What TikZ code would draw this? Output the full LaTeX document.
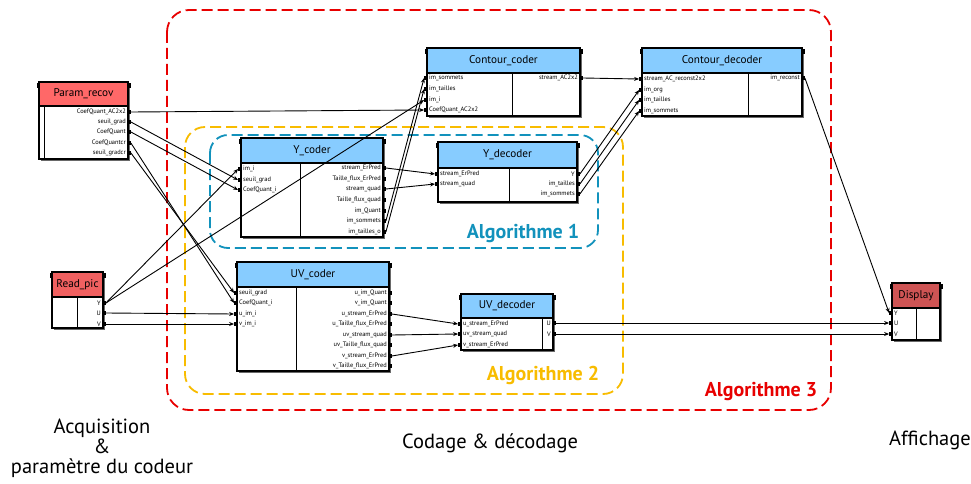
\documentclass[tikz,border=0pt]{standalone}
\usepackage{fontspec}
\setmainfont{PT Sans}
\usetikzlibrary{arrows.meta}
\definecolor{hblue}{RGB}{135,204,255}
\definecolor{hred}{RGB}{255,104,104}
\definecolor{hred2}{RGB}{240,96,96}
\definecolor{hred3}{RGB}{206,84,84}
\definecolor{shadowc}{RGB}{105,105,105}
\definecolor{algone}{RGB}{18,146,188}
\definecolor{algtwo}{RGB}{248,188,0}
\definecolor{algthree}{RGB}{232,0,0}
\tikzset{
 portsq/.style={fill=black, inner sep=0pt, minimum width=2.5pt, minimum height=4.5pt},
 plabel/.style={font=\fontsize{6.4}{7}\selectfont, inner sep=0pt},
 btitle/.style={font=\fontsize{11.2}{13}\selectfont, inner sep=0pt},
 conn/.style={line width=0.9pt, -{Stealth[length=5pt,width=4pt]}},
 region/.style={line width=1.8pt, dash pattern=on 11pt off 5pt, rounded corners=22pt},
 alglabel/.style={font=\fontsize{20}{22}\selectfont\bfseries, inner sep=0pt},
 caption/.style={font=\fontsize{20.5}{20}\selectfont, align=center, inner sep=0pt}
}
% block: name, left, top, right, header bottom, bottom, divider, title, fill
\newcommand\blk[9]{%
 \fill[shadowc] (#2+2,#3+2) rectangle (#4+2,#6+2);
 \filldraw[fill=#9, draw=black, line width=1.2pt] (#2,#3) rectangle (#4,#5);
 \filldraw[fill=white, draw=black, line width=1.2pt] (#2,#5) rectangle (#4,#6);
 \draw[line width=1pt] (#7,#5) -- (#7,#6);
 \node[btitle] (#1) at ({(#2+#4)/2},{(#3+#5)/2}) {#8};
 \fill (#2-2.5,#3+1) rectangle (#2,#3+6);
 \fill (#4,#3+1) rectangle (#4+2.5,#3+6);
}
\newcommand\inp[5]{%
 \node[portsq,anchor=east] (#1-i#2) at (#3,#4) {};
 \node[plabel,anchor=west] (#1-il#2) at (#3+2,#4) {#5};}
\newcommand\outp[5]{%
 \node[portsq,anchor=west] (#1-o#2) at (#3,#4) {};
 \node[plabel,anchor=east] (#1-ol#2) at (#3-2,#4) {#5};}
\begin{document}
\begin{tikzpicture}[x=1pt,y=-1pt]
\useasboundingbox (0,0) rectangle (971,484);
\fill[white] (0,0) rectangle (971,484);

% regions
\draw[region, draw=algthree] (167,10) rectangle (831,410);
\draw[region, draw=algtwo, rounded corners=20pt] (185,127) rectangle (623,394);
\draw[region, draw=algone, rounded corners=18pt] (210,135) rectangle (598,248);
\node[alglabel, text=algone] (a1) at (523,233) {Algorithme 1};
\node[alglabel, text=algtwo] (a2) at (543,375) {Algorithme 2};
\node[alglabel, text=algthree] (a3) at (761,392) {Algorithme 3};

% blocks
\blk{pr}{39}{82}{128}{106}{159}{44}{Param\_recov}{hred}
\outp{pr}{1}{128}{112}{CoefQuant\_AC2x2}
\outp{pr}{2}{128}{122}{seuil\_grad}
\outp{pr}{3}{128}{132}{CoefQuant}
\outp{pr}{4}{128}{143}{CoefQuantcr}
\outp{pr}{5}{128}{153}{seuil\_gradcr}

\blk{rp}{52}{272}{103}{297}{328}{77}{Read\_pic}{hred2}
\outp{rp}{1}{103}{303}{Y}
\outp{rp}{2}{103}{313}{U}
\outp{rp}{3}{103}{324}{V}

\blk{yc}{241}{138}{383}{163}{237}{300}{Y\_coder}{hblue}
\inp{yc}{1}{241}{169}{im\_i}
\inp{yc}{2}{241}{180}{seuil\_grad}
\inp{yc}{3}{241}{190}{CoefQuant\_i}
\outp{yc}{1}{383}{168}{stream\_ErPred}
\outp{yc}{2}{383}{179}{Taille\_flux\_ErPred}
\outp{yc}{3}{383}{189}{stream\_quad}
\outp{yc}{4}{383}{200}{Taille\_flux\_quad}
\outp{yc}{5}{383}{211}{im\_Quant}
\outp{yc}{6}{383}{221}{im\_sommets}
\outp{yc}{7}{383}{232}{im\_tailles\_o}

\blk{uc}{237}{262}{389}{287}{371}{296}{UV\_coder}{hblue}
\inp{uc}{1}{237}{293}{seuil\_grad}
\inp{uc}{2}{237}{303}{CoefQuant\_i}
\inp{uc}{3}{237}{314}{u\_im\_i}
\inp{uc}{4}{237}{324}{v\_im\_i}
\outp{uc}{1}{389}{293}{u\_im\_Quant}
\outp{uc}{2}{389}{303}{v\_im\_Quant}
\outp{uc}{3}{389}{314}{u\_stream\_ErPred}
\outp{uc}{4}{389}{324}{u\_Taille\_flux\_ErPred}
\outp{uc}{5}{389}{335}{uv\_stream\_quad}
\outp{uc}{6}{389}{345}{uv\_Taille\_flux\_quad}
\outp{uc}{7}{389}{356}{v\_stream\_ErPred}
\outp{uc}{8}{389}{366}{v\_Taille\_flux\_ErPred}

\blk{cc}{427}{48}{580}{73}{116}{512}{Contour\_coder}{hblue}
\inp{cc}{1}{427}{78}{im\_sommets}
\inp{cc}{2}{427}{89}{im\_tailles}
\inp{cc}{3}{427}{100}{im\_i}
\inp{cc}{4}{427}{110}{CoefQuant\_AC2x2}
\outp{cc}{1}{580}{78}{stream\_AC2x2}

\blk{cd}{642}{48}{802}{73}{116}{748}{Contour\_decoder}{hblue}
\inp{cd}{1}{642}{79}{stream\_AC\_reconst2x2}
\inp{cd}{2}{642}{90}{im\_org}
\inp{cd}{3}{642}{100}{im\_tailles}
\inp{cd}{4}{642}{111}{im\_sommets}
\outp{cd}{1}{802}{78}{im\_reconst}

\blk{yd}{438}{142}{577}{168}{202}{509}{Y\_decoder}{hblue}
\inp{yd}{1}{438}{174}{stream\_ErPred}
\inp{yd}{2}{438}{184}{stream\_quad}
\outp{yd}{1}{577}{174}{Y}
\outp{yd}{2}{577}{184}{im\_tailles}
\outp{yd}{3}{577}{194}{im\_sommets}

\blk{ud}{461}{294}{553}{318}{350}{542}{UV\_decoder}{hblue}
\inp{ud}{1}{461}{324}{u\_stream\_ErPred}
\inp{ud}{2}{461}{334}{uv\_stream\_quad}
\inp{ud}{3}{461}{345}{v\_stream\_ErPred}
\outp{ud}{1}{553}{323}{U}
\outp{ud}{2}{553}{334}{V}

\blk{ds}{892}{283}{940}{308}{340}{916}{Display}{hred3}
\inp{ds}{1}{892}{313}{Y}
\inp{ds}{2}{892}{323}{U}
\inp{ds}{3}{892}{334}{V}

% connectors
\draw[conn] (pr-o1.east) -- (cc-i4.west);
\draw[conn] (pr-o2.east) -- (yc-i2.west);
\draw[conn] (pr-o3.east) -- (yc-i3.west);
\draw[conn] (pr-o4.east) -- (uc-i2.west);
\draw[conn] (pr-o5.east) -- (uc-i1.west);
\draw[conn] (rp-o1.east) -- (yc-i1.west);
\draw[conn] (rp-o1.east) -- (cc-i3.west);
\draw[conn] (rp-o2.east) -- (uc-i3.west);
\draw[conn] (rp-o3.east) -- (uc-i4.west);
\draw[conn] (yc-o1.east) -- (yd-i1.west);
\draw[conn] (yc-o3.east) -- (yd-i2.west);
\draw[conn] (yc-o6.east) -- (cc-i1.west);
\draw[conn] (yc-o7.east) -- (cc-i2.west);
\draw[conn] (yd-o1.east) -- (cd-i2.west);
\draw[conn] (yd-o2.east) -- (cd-i3.west);
\draw[conn] (yd-o3.east) -- (cd-i4.west);
\draw[conn] (cc-o1.east) -- (cd-i1.west);
\draw[conn] (cd-o1.east) -- (ds-i1.west);
\draw[conn] (uc-o3.east) -- (ud-i1.west);
\draw[conn] (uc-o5.east) -- (ud-i2.west);
\draw[conn] (uc-o7.east) -- (ud-i3.west);
\draw[conn] (ud-o1.east) -- (ds-i2.west);
\draw[conn] (ud-o2.east) -- (ds-i3.west);

% captions
\node[caption] (c1) at (102,448) {Acquisition\\\&\\paramètre du codeur};
\node[caption] (c2) at (490,443) {Codage \& décodage};
\node[caption] (c3) at (930,440) {Affichage};
\end{tikzpicture}
\end{document}
